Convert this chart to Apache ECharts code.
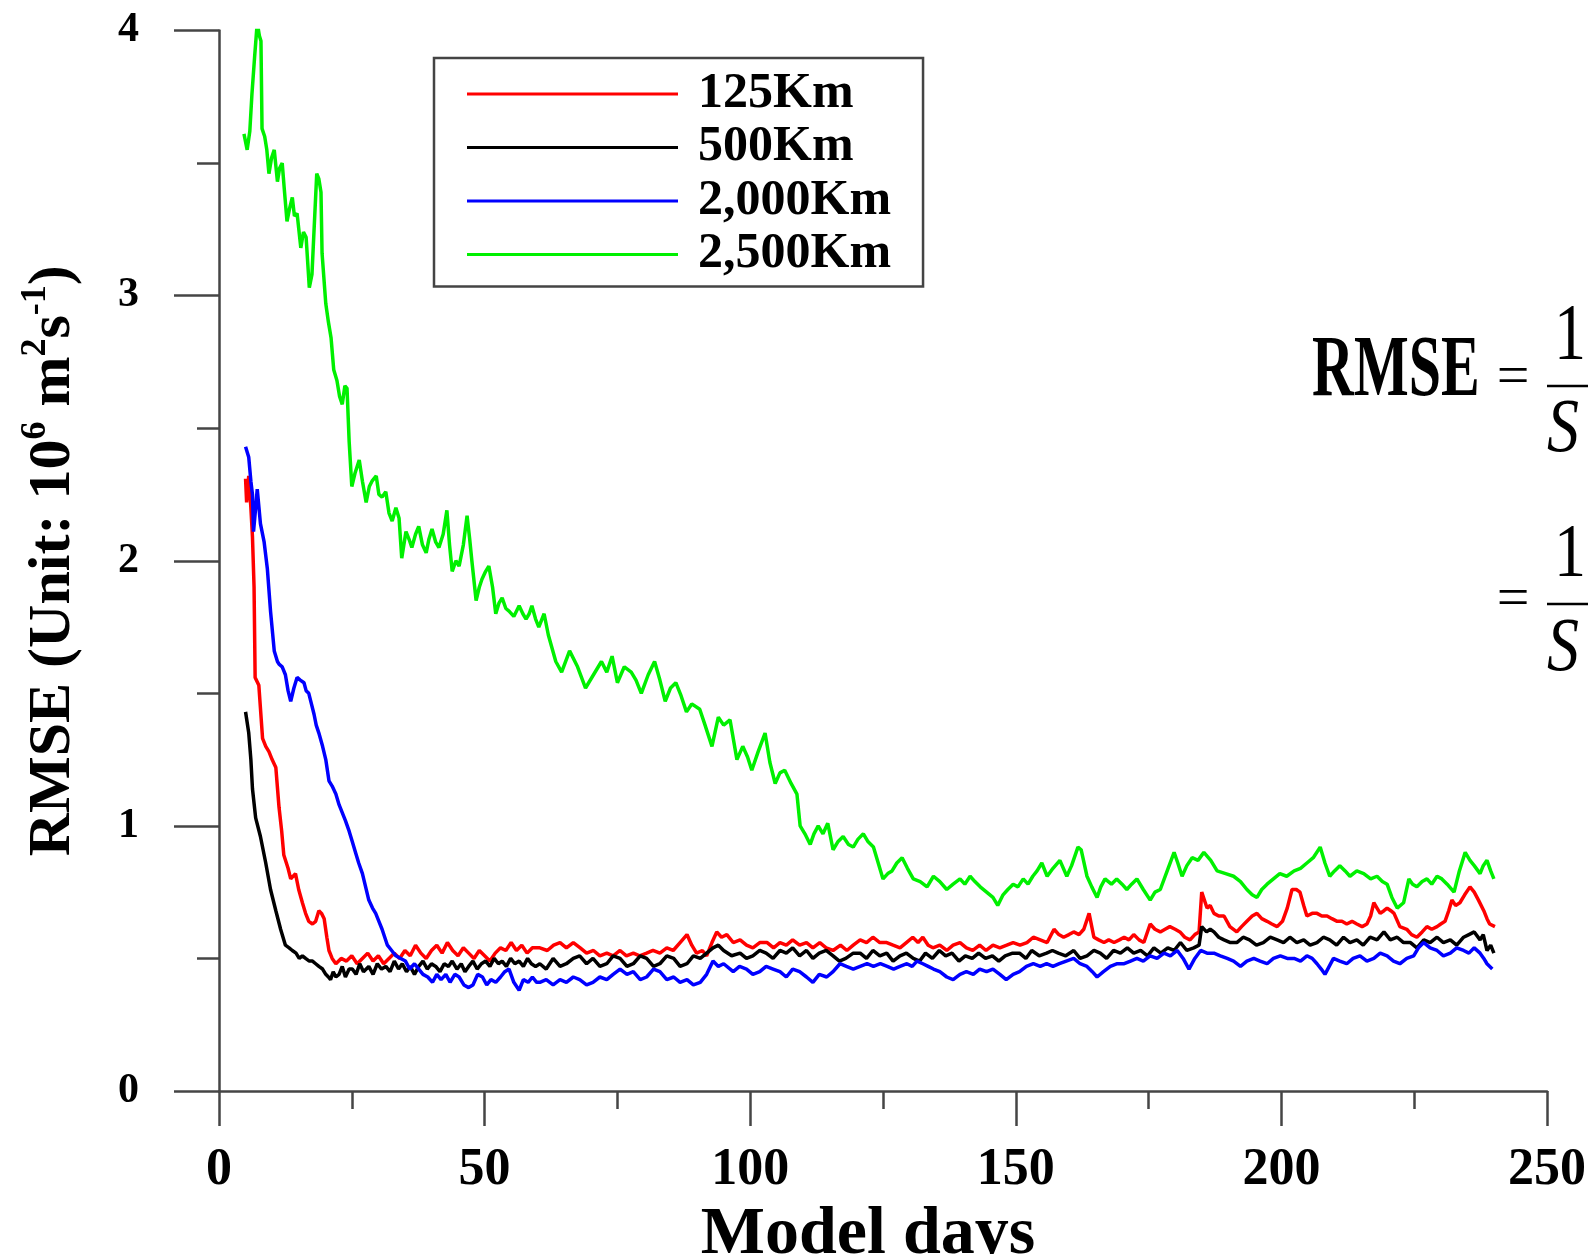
<!DOCTYPE html>
<html>
<head>
<meta charset="utf-8">
<script src="https://cdn.jsdelivr.net/npm/echarts@6/dist/echarts.min.js"></script>
<style>
html,body{margin:0;padding:0;background:#fff;}
#chart{width:1596px;height:1254px;}
</style>
</head>
<body>
<div id="chart"></div>
<script>
// ---- data: [model day, RMSE] ----
const seriesNames = ['125Km', '500Km', '2,000Km', '2,500Km'];
const seriesColors = ['#ff0000', '#000000', '#0000ff', '#00f000'];

const red125 = [[5.0,2.31],[5.2,2.22],[5.6,2.32],[6.0,2.20],[6.3,2.09],[6.6,1.90],[6.8,1.56],[7.5,1.53],[8.2,1.33],[8.8,1.30],[9.4,1.28],[10.0,1.25],[10.7,1.22],[11.3,1.07],[11.8,0.98],[12.2,0.89],[13.0,0.84],[13.5,0.80],[14.4,0.82],[15.0,0.76],[15.7,0.71],[16.3,0.67],[16.9,0.64],[17.6,0.63],[18.2,0.64],[18.8,0.68],[19.3,0.67],[19.8,0.65],[20.3,0.58],[20.7,0.53],[21.3,0.50],[22.0,0.48],[23.0,0.50],[24.0,0.49],[25.0,0.51],[26.0,0.48],[27.0,0.50],[28.0,0.52],[29.0,0.49],[30.0,0.51],[31.0,0.48],[32.0,0.50],[33.0,0.52],[34.0,0.50],[35.0,0.53],[36.0,0.51],[37.0,0.55],[38.0,0.52],[39.0,0.50],[40.0,0.53],[41.0,0.55],[42.0,0.52],[43.0,0.56],[44.0,0.53],[45.0,0.51],[46.0,0.54],[47.0,0.52],[48.0,0.50],[49.0,0.53],[50.0,0.51],[51.0,0.49],[52.0,0.52],[53.0,0.54],[54.0,0.53],[55.0,0.56],[56.0,0.53],[57.0,0.55],[58.0,0.52],[59.0,0.54],[60.4,0.54],[61.8,0.53],[63.0,0.55],[64.2,0.56],[65.4,0.54],[66.7,0.56],[68.0,0.54],[69.2,0.52],[70.5,0.53],[71.7,0.51],[73.0,0.52],[74.2,0.51],[75.5,0.53],[76.7,0.51],[78.0,0.52],[79.2,0.51],[80.5,0.52],[81.7,0.53],[83.0,0.52],[84.3,0.54],[85.5,0.53],[86.8,0.56],[88.1,0.59],[89.0,0.55],[89.9,0.52],[91.0,0.53],[91.8,0.51],[92.8,0.56],[93.7,0.60],[94.6,0.58],[95.6,0.59],[96.8,0.56],[98.1,0.57],[99.3,0.55],[100.5,0.54],[101.8,0.56],[103.2,0.56],[104.4,0.54],[105.6,0.56],[106.8,0.55],[108.0,0.57],[109.3,0.55],[110.6,0.56],[111.8,0.54],[113.1,0.56],[114.3,0.54],[115.6,0.53],[117.0,0.55],[118.2,0.53],[119.4,0.55],[120.7,0.57],[121.9,0.56],[123.1,0.58],[124.4,0.56],[125.7,0.56],[126.9,0.55],[128.2,0.54],[129.4,0.56],[130.6,0.58],[131.6,0.56],[132.5,0.58],[133.5,0.55],[134.4,0.54],[135.7,0.55],[137.0,0.53],[138.2,0.55],[139.5,0.56],[140.7,0.54],[141.9,0.53],[143.2,0.55],[144.4,0.53],[145.7,0.55],[147.0,0.54],[148.3,0.55],[149.5,0.56],[150.8,0.55],[152.1,0.56],[153.3,0.58],[154.6,0.57],[155.9,0.56],[157.2,0.61],[158.1,0.59],[159.0,0.58],[160.0,0.59],[160.9,0.60],[161.9,0.59],[162.8,0.61],[163.8,0.67],[164.7,0.58],[165.6,0.57],[166.6,0.56],[167.5,0.57],[168.5,0.56],[169.5,0.57],[170.4,0.58],[171.3,0.57],[172.2,0.59],[173.2,0.57],[174.1,0.56],[175.3,0.63],[176.2,0.61],[177.2,0.60],[178.1,0.61],[179.0,0.62],[180.0,0.61],[180.9,0.60],[181.8,0.58],[182.8,0.57],[183.7,0.59],[184.5,0.60],[185.0,0.75],[186.0,0.69],[186.6,0.70],[187.3,0.67],[188.2,0.66],[189.2,0.66],[190.3,0.62],[191.6,0.60],[192.5,0.62],[193.5,0.64],[194.5,0.66],[195.4,0.67],[196.3,0.65],[197.3,0.64],[198.2,0.63],[199.2,0.62],[200.2,0.64],[201.1,0.69],[202.0,0.76],[202.8,0.76],[203.5,0.75],[204.2,0.70],[204.8,0.66],[205.8,0.67],[206.7,0.67],[207.6,0.66],[208.6,0.66],[209.5,0.65],[210.5,0.64],[211.4,0.64],[212.3,0.63],[213.3,0.64],[214.2,0.63],[215.2,0.62],[216.1,0.63],[216.8,0.66],[217.4,0.71],[218.0,0.69],[218.6,0.67],[219.3,0.68],[219.9,0.69],[220.6,0.68],[221.2,0.67],[222.3,0.62],[223.6,0.61],[224.5,0.59],[225.5,0.58],[226.5,0.60],[227.4,0.62],[228.3,0.61],[229.3,0.62],[230.0,0.63],[230.8,0.64],[231.5,0.68],[232.1,0.72],[232.8,0.70],[233.6,0.71],[234.5,0.74],[235.5,0.77],[236.3,0.75],[237.1,0.72],[238.1,0.68],[238.7,0.65],[239.2,0.63],[240.2,0.62]];

const black500 = [[5.0,1.43],[5.6,1.35],[6.0,1.25],[6.3,1.14],[6.9,1.03],[7.8,0.96],[8.8,0.86],[9.7,0.76],[10.7,0.68],[11.6,0.61],[12.5,0.55],[13.2,0.54],[13.8,0.53],[14.5,0.52],[15.1,0.50],[15.7,0.51],[16.3,0.50],[17.0,0.49],[17.6,0.49],[18.2,0.48],[18.8,0.47],[19.5,0.46],[20.1,0.44],[20.6,0.43],[21.0,0.42],[21.5,0.45],[22.0,0.43],[22.6,0.44],[23.2,0.47],[23.8,0.43],[24.5,0.46],[25.1,0.46],[25.8,0.44],[26.5,0.48],[27.2,0.45],[28.2,0.47],[29.0,0.44],[29.8,0.48],[30.6,0.46],[31.4,0.47],[32.2,0.45],[33.0,0.49],[33.8,0.46],[34.5,0.48],[35.3,0.45],[36.0,0.47],[36.8,0.44],[37.6,0.47],[38.4,0.49],[39.2,0.46],[40.0,0.48],[40.8,0.47],[41.6,0.45],[42.4,0.48],[43.2,0.47],[43.9,0.49],[44.8,0.46],[45.6,0.48],[46.3,0.45],[47.0,0.47],[47.8,0.49],[48.6,0.46],[49.4,0.48],[50.2,0.49],[51.0,0.47],[51.8,0.50],[52.6,0.48],[53.3,0.49],[54.1,0.47],[54.9,0.50],[55.7,0.48],[56.5,0.49],[57.3,0.47],[58.1,0.50],[58.8,0.48],[59.6,0.47],[60.4,0.48],[61.6,0.46],[62.9,0.50],[64.2,0.47],[65.4,0.48],[66.7,0.50],[67.9,0.51],[69.2,0.48],[70.4,0.50],[71.7,0.47],[73.0,0.48],[74.2,0.51],[75.5,0.50],[76.8,0.47],[78.0,0.48],[79.3,0.51],[80.5,0.50],[81.8,0.47],[83.0,0.48],[84.3,0.51],[85.6,0.50],[86.8,0.47],[88.1,0.48],[89.3,0.51],[90.6,0.50],[91.8,0.52],[93.0,0.54],[94.0,0.55],[95.0,0.53],[96.5,0.51],[98.1,0.52],[99.3,0.50],[100.5,0.51],[101.8,0.53],[103.0,0.52],[104.3,0.50],[105.6,0.53],[106.8,0.52],[108.0,0.54],[109.3,0.51],[110.6,0.53],[111.8,0.50],[113.0,0.52],[114.3,0.53],[115.6,0.51],[116.8,0.49],[118.0,0.50],[119.4,0.52],[120.7,0.52],[121.9,0.50],[123.1,0.53],[124.4,0.51],[125.7,0.52],[126.9,0.49],[128.2,0.51],[129.4,0.52],[130.7,0.50],[131.9,0.49],[133.0,0.52],[134.3,0.50],[135.6,0.53],[136.8,0.51],[138.0,0.52],[139.3,0.49],[140.5,0.51],[141.8,0.50],[143.0,0.52],[144.3,0.50],[145.6,0.51],[146.8,0.49],[148.0,0.51],[149.4,0.52],[150.7,0.52],[151.9,0.50],[153.0,0.53],[154.4,0.51],[155.8,0.52],[156.9,0.53],[158.0,0.52],[159.4,0.51],[160.9,0.53],[162.1,0.50],[163.4,0.51],[164.7,0.53],[165.9,0.52],[167.1,0.50],[168.4,0.53],[169.7,0.52],[171.0,0.54],[172.2,0.52],[173.5,0.53],[174.8,0.51],[176.0,0.54],[177.3,0.52],[178.6,0.54],[179.8,0.53],[181.0,0.56],[182.2,0.53],[183.5,0.54],[184.5,0.55],[185.0,0.62],[185.9,0.60],[186.6,0.61],[187.3,0.60],[188.2,0.58],[189.2,0.57],[190.4,0.56],[191.6,0.56],[192.8,0.58],[194.0,0.57],[195.3,0.55],[196.6,0.56],[197.9,0.58],[199.2,0.57],[200.4,0.56],[201.6,0.58],[202.9,0.56],[204.2,0.57],[205.4,0.55],[206.7,0.56],[207.9,0.58],[209.1,0.57],[210.4,0.55],[211.7,0.58],[212.9,0.56],[214.2,0.57],[215.4,0.55],[216.7,0.58],[218.0,0.57],[219.3,0.60],[220.5,0.57],[221.8,0.58],[223.0,0.56],[224.3,0.56],[225.5,0.54],[226.8,0.57],[228.0,0.56],[229.3,0.58],[230.5,0.56],[231.8,0.57],[233.0,0.55],[234.3,0.58],[235.3,0.59],[236.3,0.60],[237.4,0.57],[238.0,0.59],[238.7,0.53],[239.4,0.55],[240.0,0.52]];

const blue2000 = [[5.0,2.43],[5.6,2.39],[6.0,2.30],[6.3,2.25],[6.5,2.11],[6.9,2.20],[7.2,2.27],[7.8,2.14],[8.5,2.07],[9.1,1.97],[9.7,1.81],[10.4,1.66],[11.0,1.62],[11.3,1.61],[11.9,1.60],[12.5,1.57],[13.0,1.51],[13.5,1.47],[14.1,1.52],[14.7,1.56],[15.3,1.55],[16.0,1.54],[16.4,1.51],[16.9,1.50],[17.4,1.46],[17.9,1.42],[18.3,1.38],[18.8,1.35],[19.5,1.30],[20.1,1.25],[20.7,1.17],[21.3,1.15],[22.0,1.12],[22.6,1.08],[23.2,1.05],[23.8,1.02],[24.5,0.98],[25.1,0.94],[25.7,0.90],[26.3,0.86],[27.0,0.82],[27.6,0.77],[28.2,0.72],[28.9,0.69],[29.5,0.67],[30.1,0.64],[30.7,0.61],[31.2,0.58],[31.7,0.55],[32.5,0.53],[33.3,0.51],[34.2,0.50],[35.1,0.49],[35.9,0.46],[36.8,0.48],[37.6,0.46],[38.4,0.44],[39.3,0.43],[40.2,0.41],[41.0,0.44],[41.8,0.42],[42.7,0.44],[43.5,0.41],[44.4,0.44],[45.2,0.43],[46.1,0.40],[47.0,0.39],[47.8,0.40],[48.7,0.44],[49.6,0.43],[50.4,0.40],[51.2,0.42],[52.1,0.41],[53.0,0.43],[53.8,0.45],[54.6,0.46],[55.5,0.41],[56.5,0.38],[57.3,0.42],[58.2,0.41],[59.0,0.43],[59.8,0.41],[60.4,0.41],[61.6,0.42],[62.9,0.40],[64.2,0.42],[65.4,0.41],[66.7,0.43],[67.9,0.42],[69.2,0.40],[70.4,0.41],[71.7,0.43],[73.0,0.42],[74.2,0.44],[75.5,0.46],[76.8,0.44],[78.0,0.45],[79.3,0.42],[80.5,0.43],[81.8,0.46],[83.0,0.45],[84.3,0.42],[85.6,0.43],[86.8,0.41],[88.1,0.42],[89.3,0.40],[90.6,0.41],[91.8,0.44],[93.0,0.49],[94.0,0.47],[95.0,0.48],[96.8,0.45],[98.0,0.47],[99.3,0.46],[100.5,0.44],[101.8,0.45],[103.0,0.47],[104.3,0.46],[105.6,0.45],[106.8,0.43],[108.0,0.46],[109.3,0.45],[110.6,0.43],[111.8,0.41],[113.0,0.44],[114.4,0.43],[115.6,0.45],[116.9,0.48],[118.1,0.47],[119.4,0.46],[120.7,0.47],[122.0,0.48],[123.2,0.47],[124.5,0.48],[125.8,0.47],[127.0,0.46],[128.2,0.47],[129.5,0.48],[130.5,0.47],[131.4,0.49],[132.5,0.48],[133.5,0.47],[134.5,0.46],[135.7,0.45],[137.0,0.43],[138.2,0.42],[139.5,0.44],[140.7,0.45],[142.0,0.44],[143.2,0.46],[144.5,0.45],[145.7,0.46],[147.0,0.44],[148.2,0.42],[149.5,0.44],[150.7,0.45],[152.0,0.47],[153.3,0.48],[154.6,0.47],[155.8,0.48],[157.0,0.47],[158.2,0.48],[159.5,0.49],[160.9,0.50],[162.1,0.48],[163.4,0.47],[164.4,0.45],[165.3,0.43],[166.5,0.45],[167.8,0.47],[169.1,0.48],[170.4,0.48],[171.6,0.49],[172.8,0.50],[174.0,0.49],[175.3,0.51],[176.6,0.50],[177.9,0.52],[179.1,0.51],[180.4,0.53],[181.5,0.50],[182.6,0.46],[183.7,0.50],[184.8,0.53],[186.0,0.52],[187.3,0.52],[188.5,0.51],[189.8,0.50],[191.0,0.49],[192.3,0.47],[193.5,0.49],[194.8,0.50],[196.0,0.49],[197.3,0.48],[198.5,0.50],[199.8,0.51],[201.1,0.50],[202.4,0.50],[203.6,0.49],[204.8,0.51],[205.8,0.50],[206.7,0.48],[207.5,0.46],[208.2,0.44],[209.0,0.47],[209.8,0.50],[211.0,0.49],[212.3,0.48],[213.5,0.50],[214.8,0.51],[216.1,0.49],[217.4,0.50],[218.6,0.52],[219.9,0.51],[221.1,0.49],[222.3,0.48],[223.6,0.50],[224.9,0.51],[225.8,0.54],[226.8,0.56],[228.0,0.54],[229.3,0.53],[230.5,0.51],[231.8,0.52],[233.0,0.54],[234.3,0.53],[235.3,0.52],[236.3,0.54],[237.4,0.52],[238.1,0.50],[238.7,0.48],[239.7,0.46]];

const green2500 = [[4.7,3.61],[5.3,3.55],[5.8,3.62],[6.2,3.76],[6.7,3.90],[7.2,4.03],[7.6,3.98],[7.9,3.96],[8.1,3.63],[8.6,3.60],[9.0,3.55],[9.4,3.46],[9.9,3.52],[10.4,3.55],[11.0,3.43],[11.4,3.48],[11.9,3.50],[12.3,3.40],[12.8,3.28],[13.3,3.33],[13.8,3.37],[14.2,3.30],[14.7,3.31],[15.4,3.18],[15.9,3.24],[16.4,3.22],[17.0,3.03],[17.5,3.08],[17.9,3.25],[18.4,3.46],[18.8,3.44],[19.2,3.39],[19.4,3.16],[20.1,2.97],[20.6,2.90],[21.1,2.84],[21.6,2.72],[22.2,2.68],[22.7,2.62],[23.2,2.59],[23.7,2.66],[24.1,2.65],[24.5,2.45],[25.0,2.28],[25.6,2.33],[26.4,2.38],[27.0,2.30],[27.7,2.22],[28.3,2.28],[28.8,2.30],[29.6,2.32],[30.1,2.25],[30.7,2.24],[31.4,2.26],[32.0,2.18],[32.6,2.15],[33.3,2.20],[33.9,2.16],[34.4,2.01],[35.2,2.11],[35.8,2.08],[36.3,2.05],[37.0,2.10],[37.6,2.13],[38.3,2.06],[39.0,2.03],[39.5,2.08],[40.1,2.12],[40.8,2.07],[41.4,2.05],[42.2,2.10],[42.9,2.19],[43.4,2.06],[43.9,1.96],[44.6,2.00],[45.2,1.98],[46.0,2.06],[46.7,2.17],[47.2,2.08],[47.6,2.00],[48.4,1.85],[49.0,1.90],[49.5,1.93],[50.2,1.96],[50.8,1.98],[51.5,1.90],[52.1,1.80],[52.7,1.84],[53.3,1.86],[54.0,1.82],[54.6,1.81],[55.5,1.79],[56.5,1.83],[57.2,1.80],[57.8,1.78],[58.4,1.80],[58.9,1.83],[59.6,1.78],[60.2,1.75],[61.2,1.80],[62.0,1.72],[62.7,1.67],[63.4,1.62],[64.5,1.58],[66.0,1.66],[67.5,1.60],[69.0,1.52],[70.5,1.57],[72.0,1.62],[73.0,1.58],[74.0,1.64],[75.0,1.54],[76.3,1.60],[77.6,1.58],[78.5,1.55],[79.5,1.50],[80.8,1.57],[82.0,1.62],[83.0,1.55],[84.0,1.47],[85.0,1.52],[86.0,1.54],[87.0,1.49],[88.0,1.43],[89.0,1.46],[90.5,1.44],[91.5,1.38],[92.8,1.30],[94.0,1.41],[95.0,1.38],[96.2,1.40],[97.5,1.25],[98.6,1.30],[99.5,1.26],[100.3,1.21],[101.5,1.28],[102.8,1.35],[103.7,1.24],[104.7,1.16],[105.6,1.20],[106.5,1.21],[107.7,1.16],[108.8,1.12],[109.4,1.00],[110.3,0.97],[111.3,0.93],[112.0,0.97],[112.8,1.00],[113.7,0.97],[114.6,1.01],[115.6,0.91],[116.5,0.94],[117.5,0.96],[118.5,0.93],[119.4,0.92],[120.3,0.95],[121.3,0.97],[122.2,0.94],[123.2,0.92],[124.1,0.86],[125.0,0.80],[125.9,0.82],[126.7,0.83],[127.6,0.86],[128.6,0.88],[129.6,0.84],[130.7,0.80],[132.0,0.79],[133.3,0.77],[134.5,0.81],[135.7,0.79],[137.0,0.76],[138.2,0.78],[139.5,0.80],[140.4,0.78],[141.4,0.81],[142.3,0.79],[143.3,0.77],[144.5,0.75],[145.7,0.73],[146.6,0.70],[147.6,0.74],[148.5,0.76],[149.5,0.78],[150.4,0.77],[151.4,0.80],[152.3,0.78],[153.2,0.81],[154.0,0.83],[154.9,0.86],[155.9,0.81],[157.0,0.84],[158.3,0.87],[159.6,0.81],[160.5,0.85],[161.7,0.92],[162.3,0.91],[163.4,0.81],[164.3,0.77],[165.3,0.73],[166.0,0.77],[166.8,0.80],[168.0,0.78],[169.0,0.80],[170.0,0.78],[170.9,0.76],[171.8,0.78],[172.8,0.80],[174.0,0.76],[175.3,0.72],[176.2,0.75],[177.2,0.76],[178.5,0.83],[179.8,0.90],[180.5,0.86],[181.3,0.81],[182.2,0.85],[183.2,0.88],[184.3,0.87],[185.4,0.90],[186.7,0.87],[187.9,0.83],[189.5,0.82],[191.0,0.81],[192.3,0.79],[193.5,0.76],[194.5,0.74],[195.4,0.73],[196.3,0.76],[197.3,0.78],[198.5,0.80],[199.7,0.82],[201.0,0.81],[202.4,0.83],[203.6,0.84],[204.8,0.86],[206.0,0.88],[207.3,0.92],[208.2,0.86],[209.1,0.81],[210.0,0.83],[211.0,0.85],[212.0,0.83],[212.9,0.81],[214.2,0.83],[215.5,0.82],[216.8,0.80],[218.0,0.81],[219.0,0.79],[219.9,0.78],[220.8,0.73],[221.8,0.69],[223.0,0.71],[224.0,0.80],[224.7,0.78],[225.5,0.77],[226.5,0.79],[227.4,0.80],[228.3,0.78],[229.3,0.81],[230.2,0.80],[231.2,0.78],[232.5,0.75],[233.5,0.83],[234.6,0.90],[235.5,0.87],[236.3,0.85],[237.4,0.82],[238.0,0.85],[238.7,0.87],[239.4,0.83],[240.0,0.80]];

const xTicks = {min: 0, max: 250, interval: 50};
const yTicks = {min: 0, max: 4, interval: 1};
const xAxisTitle = 'Model days';
// ---------------------------------------------------

const FONT = '"Liberation Serif", "Times New Roman", serif';
const AXIS_COLOR = '#454545';

const chart = echarts.init(document.getElementById('chart'), null, {renderer: 'canvas'});

const allData = [red125, black500, blue2000, green2500];

function mathText(txt, x, y, size, weight, style, sy) {
  return {
    type: 'text', x: x, y: y, scaleY: sy,
    style: {text: txt, x: 0, y: 0, fontFamily: FONT, fontWeight: weight, fontStyle: style,
            fontSize: size, fill: '#000', align: 'center', verticalAlign: 'middle'}
  };
}

const option = {
  backgroundColor: '#ffffff',
  animation: false,
  grid: {left: 219, right: 49, top: 30.5, bottom: 163, containLabel: false, outerBoundsMode: 'none'},
  legend: {
    orient: 'vertical',
    left: 434, top: 58,
    padding: [11, 32, 7, 33],
    itemWidth: 211, itemHeight: 3, itemGap: 3.5,
    icon: 'rect',
    borderColor: '#444', borderWidth: 2.5,
    itemStyle: {borderWidth: 0},
    textStyle: {fontFamily: FONT, fontWeight: 'bold', fontSize: 50, color: '#000', lineHeight: 50, padding: [0, 0, 0, 15]},
    data: seriesNames
  },
  xAxis: {
    type: 'value',
    min: xTicks.min, max: xTicks.max, interval: xTicks.interval,
    name: xAxisTitle,
    nameLocation: 'middle',
    nameGap: 102,
    nameTextStyle: {fontFamily: FONT, fontWeight: 'bold', fontSize: 68, color: '#000', lineHeight: 68, padding: [0, 30, 0, 0]},
    axisLine: {show: true, onZero: false, lineStyle: {color: AXIS_COLOR, width: 2.5}},
    axisTick: {show: true, inside: false, length: 35, lineStyle: {color: AXIS_COLOR, width: 2.5}},
    minorTick: {show: true, splitNumber: 2, length: 18, lineStyle: {color: AXIS_COLOR, width: 2.5}},
    splitLine: {show: false},
    axisLabel: {margin: 54, fontFamily: FONT, fontWeight: 'bold', fontSize: 52, color: '#000'}
  },
  yAxis: {
    type: 'value',
    min: yTicks.min, max: yTicks.max, interval: yTicks.interval,
    name: '{b|RMSE (Unit: 10}{s|6}{b| m}{s|2}{b|s}{s|-1}{b|)}',
    nameLocation: 'middle',
    nameGap: 131,
    nameTextStyle: {
      rich: {
        b: {fontFamily: FONT, fontWeight: 'bold', fontSize: 60, color: '#000', lineHeight: 70, verticalAlign: 'middle'},
        s: {fontFamily: FONT, fontWeight: 'bold', fontSize: 36, color: '#000', lineHeight: 40, verticalAlign: 'top'}
      }
    },
    axisLine: {show: true, onZero: false, lineStyle: {color: AXIS_COLOR, width: 2.5}},
    axisTick: {show: true, inside: false, length: 45, lineStyle: {color: AXIS_COLOR, width: 2.5}},
    minorTick: {show: true, splitNumber: 2, length: 22, lineStyle: {color: AXIS_COLOR, width: 2.5}},
    splitLine: {show: false},
    axisLabel: {margin: 80, fontFamily: FONT, fontWeight: 'bold', fontSize: 42, color: '#000'}
  },
  series: seriesNames.map((name, i) => ({
    name: name,
    type: 'line',
    data: allData[i],
    color: seriesColors[i],
    showSymbol: false,
    symbol: 'none',
    lineStyle: {color: seriesColors[i], width: 3.5},
    z: 2 + i
  })),
  graphic: [
    {type: 'text', x: 1312, y: 373, scaleY: 1.5,
     style: {text: 'RMSE', x: 0, y: 0, fontFamily: FONT, fontWeight: 'bold', fontSize: 58, fill: '#000', align: 'left', verticalAlign: 'middle'}},
    mathText('=', 1513, 379, 58, 'normal', 'normal', 1),
    {type: 'line', shape: {x1: 1547, y1: 386, x2: 1588, y2: 386}, style: {stroke: '#000', lineWidth: 2.5}},
    mathText('1', 1570, 338, 64, 'normal', 'normal', 1.25),
    mathText('S', 1563, 431, 64, 'normal', 'italic', 1.2),
    mathText('=', 1513, 601, 58, 'normal', 'normal', 1),
    {type: 'line', shape: {x1: 1547, y1: 604, x2: 1588, y2: 604}, style: {stroke: '#000', lineWidth: 2.5}},
    mathText('1', 1570, 556, 64, 'normal', 'normal', 1.2),
    mathText('S', 1563, 650, 64, 'normal', 'italic', 1.2)
  ]
};

chart.setOption(option);
</script>
</body>
</html>
